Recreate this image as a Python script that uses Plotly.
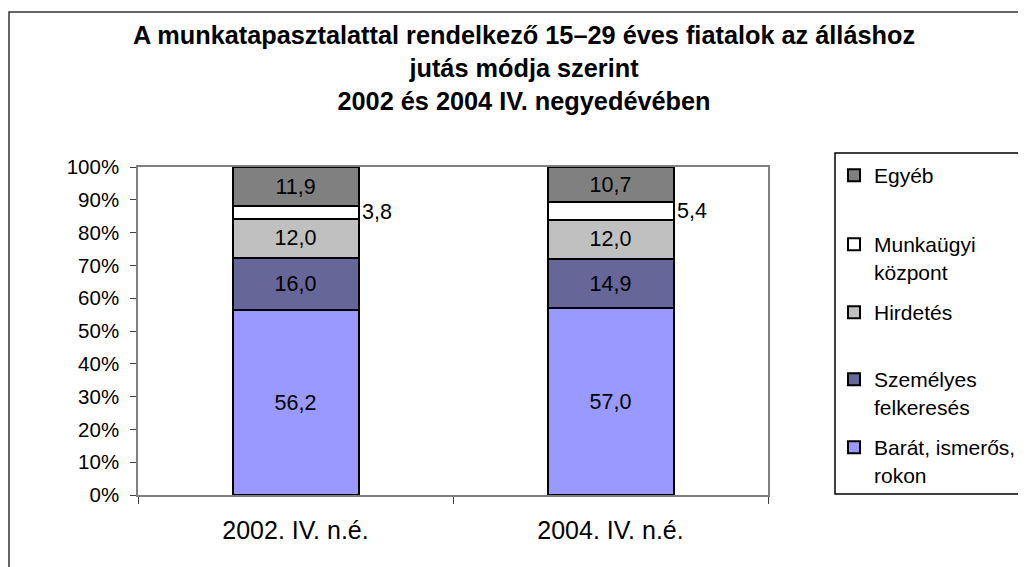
import plotly.graph_objects as go

categories = ["2002. IV. n.é.", "2004. IV. n.é."]
series_names = ["Barát, ismerős,<br>rokon", "Személyes<br>felkeresés", "Hirdetés", "Munkaügyi<br>központ", "Egyéb"]
barat = [56.2, 57.0]
szemelyes = [16.0, 14.9]
hirdetes = [12.0, 12.0]
munkaugyi = [3.8, 5.4]
egyeb = [11.9, 10.7]
colors = ["#9999FF", "#666699", "#C0C0C0", "#FFFFFF", "#808080"]
y_ticks = [0, 10, 20, 30, 40, 50, 60, 70, 80, 90, 100]

series = [barat, szemelyes, hirdetes, munkaugyi, egyeb]
FONT = "Liberation Sans, Arial, sans-serif"

def fmt(v):
    return f"{v:.1f}".replace(".", ",")

# page offset (default body margin of the html page)
OFF = 8
W, H = 1026, 567
# plot area in screen px -> figure px
L, R, T, B = 138 - OFF, 768 - OFF, 167 - OFF, 495 - OFF
pw, ph = R - L, B - T

def px2x(px):  # screen px -> paper x
    return (px - OFF - L) / pw

def py2y(py):  # screen px -> paper y
    return (B - (py - OFF)) / ph

fig = go.Figure()
legend_names = ["legend5", "legend4", "legend3", "legend2", "legend"]
for i, (name, vals, col) in enumerate(zip(series_names, series, colors)):
    is_small = (i == 3)
    fig.add_trace(go.Bar(
        x=categories, y=vals, name=name,
        marker=dict(color=col, line=dict(color="black", width=2)),
        text=[fmt(v) for v in vals],
        textposition="none" if is_small else "inside",
        insidetextanchor="middle",
        textangle=0,
        constraintext="none",
        textfont=dict(family=FONT, size=21.5, color="black"),
        legend=legend_names[i],
        hoverinfo="skip",
    ))

# outside labels for Munkaügyi központ
for j, cat in enumerate(categories):
    base = barat[j] + szemelyes[j] + hirdetes[j]
    total = base + munkaugyi[j] + egyeb[j]
    mid = (base + munkaugyi[j] / 2) / total * 100
    fig.add_annotation(x=cat, y=mid, xref="x", yref="y", text=fmt(munkaugyi[j]),
                       showarrow=False, xanchor="left", yanchor="middle", xshift=64,
                       font=dict(family=FONT, size=21.5, color="black"))

# legends: each item in its own legend to reproduce spacing (screen px tops)
legend_tops = {"legend": 155, "legend2": 224, "legend3": 292, "legend4": 359, "legend5": 427}
leg_layout = {}
for ln, top in legend_tops.items():
    leg_layout[ln] = dict(
        x=px2x(834), y=py2y(top), xanchor="left", yanchor="top",
        xref="paper", yref="paper",
        bgcolor="rgba(0,0,0,0)", borderwidth=0,
        font=dict(family=FONT, size=21, color="black"),
        valign="top", itemwidth=30,
    )

# legend frame and outer frame
shapes = [
    dict(type="rect", xref="paper", yref="paper",
         x0=px2x(835), x1=px2x(1060), y0=py2y(494), y1=py2y(153),
         line=dict(color="black", width=1.5), fillcolor="rgba(0,0,0,0)", layer="above"),
    dict(type="rect", xref="paper", yref="paper",
         x0=px2x(9), x1=px2x(1060), y0=py2y(600), y1=py2y(12),
         line=dict(color="#333333", width=1.5), fillcolor="rgba(0,0,0,0)", layer="below"),
]

fig.update_layout(
    width=W, height=H,
    margin=dict(l=L, r=W - R, t=T, b=H - B, pad=0, autoexpand=False),
    barmode="stack", barnorm="percent", bargap=0.6,
    plot_bgcolor="white", paper_bgcolor="white",
    font=dict(family=FONT, size=20, color="black"),
    title=dict(
        text="A munkatapasztalattal rendelkező 15–29 éves fiatalok az álláshoz<br>jutás módja szerint<br>2002 és 2004 IV. negyedévében",
        x=(524 - OFF) / W, xanchor="center", xref="container",
        y=1 - 36 / H, yanchor="top", yref="container",
        font=dict(family=FONT, size=25.3, color="black", weight="bold"),
    ),
    xaxis=dict(
        showgrid=False, showline=True, linecolor="#808080", linewidth=1.5, mirror=True,
        ticks="outside", tickson="boundaries", ticklen=7, tickcolor="#404040",
        tickfont=dict(family=FONT, size=25, color="black"), ticklabelstandoff=12,
    ),
    yaxis=dict(
        range=[0, 100], tickvals=y_ticks, ticktext=[f"{t}%" for t in y_ticks],
        showgrid=False, showline=True, linecolor="#808080", linewidth=1.5, mirror=True,
        ticks="outside", ticklen=6, tickcolor="#404040",
        tickfont=dict(family=FONT, size=20.5, color="black"), ticklabelstandoff=7,
        zeroline=False,
    ),
    shapes=shapes,
    showlegend=True,
    **leg_layout,
)

fig.write_html("out.html")
